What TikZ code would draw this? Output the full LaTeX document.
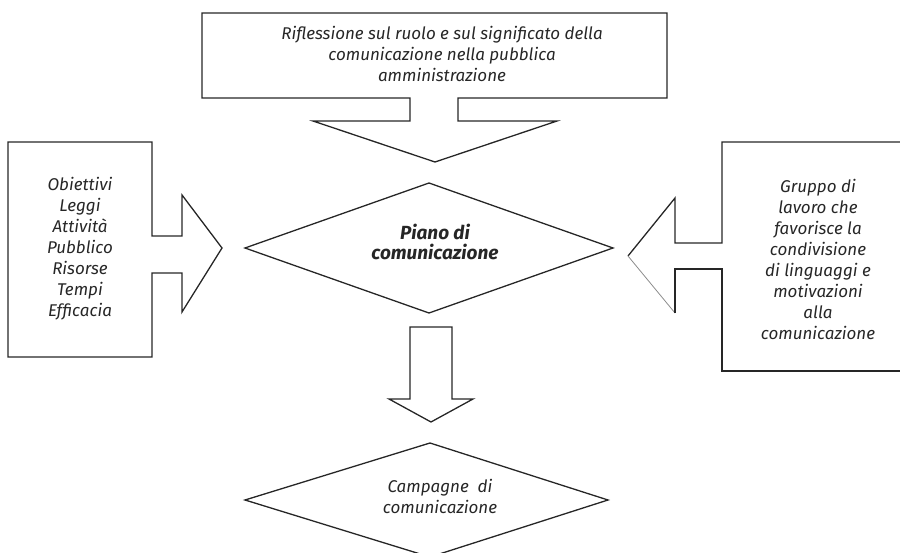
\documentclass[tikz,border=0pt]{standalone}
\usepackage{fontspec}
\setmainfont{Fira Sans}
\begin{document}
\begin{tikzpicture}[x=1pt,y=-1pt,
  outline/.style={draw=black!85,line width=1.3pt,line join=miter},
  label/.style={align=center,inner sep=0pt,font=\fontsize{17}{21}\selectfont\itshape,text=black!85},
  boldlabel/.style={label,font=\fontsize{19}{20}\selectfont\bfseries\itshape}]
\useasboundingbox (0,0) rectangle (900,553);
% top box with down arrow
\draw[outline] (202,13) -- (667,13) -- (667,98) -- (458,98) -- (458,121) -- (557,121)
  -- (435,162) -- (313,121) -- (410,121) -- (410,98) -- (202,98) -- cycle;
\node[label] (top) at (442,54) {Riflessione sul ruolo e sul significato della\\comunicazione nella pubblica\\amministrazione};
% left box with right arrow
\draw[outline] (8,142) -- (152,142) -- (152,236) -- (182,236) -- (182,195) -- (222,248)
  -- (182,312) -- (182,273) -- (152,273) -- (152,357) -- (8,357) -- cycle;
\node[label] (left) at (80,249) {Obiettivi\\Leggi\\Attività\\Pubblico\\Risorse\\Tempi\\Efficacia};
% right box with left arrow
\draw[outline] (900,142) -- (722,142) -- (722,243) -- (675,243) -- (675,198) -- (628,256);
\draw[draw=black!45,line width=0.8pt] (628,256) -- (675,313);
\draw[outline] (675,313) -- (675,269) -- (722,269) -- (722,371) -- (900,371);
\node[label] (right) at (818,259) {Gruppo di\\lavoro che\\favorisce la\\condivisione\\di linguaggi e\\motivazioni\\alla\\comunicazione};
% central diamond
\draw[outline] (245,248) -- (429,183) -- (613,248) -- (429,313) -- cycle;
\node[boldlabel] (piano) at (435,242) {Piano di\\comunicazione};
% down arrow
\draw[outline] (410,327) -- (452,327) -- (452,399) -- (473,399) -- (431,422) -- (389,399) -- (410,399) -- cycle;
% bottom diamond
\draw[outline] (245,500) -- (430,443) -- (608,500) -- (430,557) -- cycle;
\node[label] (camp) at (440,496) {Campagne\ \ di\\comunicazione};
\end{tikzpicture}
\end{document}
